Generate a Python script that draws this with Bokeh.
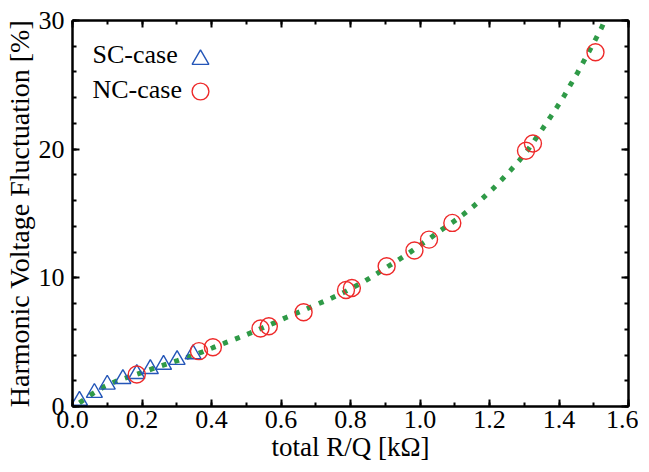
from bokeh.plotting import figure
from bokeh.models import (LinearAxis, SingleIntervalTicker, Legend, LegendItem, Label,
                          Range1d, NumeralTickFormatter, CustomJSTickFormatter)
from bokeh.embed import file_html
from bokeh.resources import INLINE

# ---- data ----
sc_x = [0.02, 0.063, 0.10, 0.145, 0.185, 0.224, 0.262, 0.301, 0.347]
sc_y = [0.46, 1.07, 1.71, 2.15, 2.53, 2.92, 3.25, 3.63, 4.07]

nc_x = [0.185, 0.364, 0.404, 0.541, 0.565, 0.665, 0.787, 0.804, 0.904, 0.984,
        1.026, 1.093, 1.305, 1.325, 1.505]
nc_y = [2.49, 4.30, 4.60, 6.06, 6.24, 7.33, 9.06, 9.21, 10.90, 12.13,
        12.97, 14.27, 19.88, 20.44, 27.53]

fit_x = [0.02, 0.058, 0.089, 0.124, 0.16, 0.195, 0.231, 0.266, 0.302, 0.337, 0.370,
         0.404, 0.441, 0.477, 0.511, 0.546, 0.579, 0.615, 0.673, 0.707, 0.742,
         0.778, 0.809, 0.842, 0.872, 0.904, 0.937, 0.97, 1.0, 1.031, 1.060,
         1.092, 1.123, 1.152, 1.180, 1.209, 1.235, 1.261, 1.286, 1.310, 1.330,
         1.353, 1.374, 1.395, 1.415, 1.433, 1.453, 1.471, 1.489, 1.507, 1.524, 1.531]
fit_y = [0.28, 1.00, 1.51, 1.95, 2.28, 2.59, 2.94, 3.25, 3.56, 3.89, 4.20,
         4.57, 4.96, 5.33, 5.70, 6.10, 6.48, 6.92, 7.58, 7.98, 8.38,
         8.83, 9.28, 9.76, 10.26, 10.82, 11.38, 11.96, 12.53, 13.12, 13.70,
         14.28, 14.89, 15.52, 16.18, 16.90, 17.62, 18.37, 19.13, 19.93, 20.70,
         21.60, 22.44, 23.30, 24.15, 25.00, 25.92, 26.82, 27.72, 28.63, 29.52, 30.0]

series_names = ["SC-case", "NC-case"]
x_title = "total R/Q [kΩ]"
y_title = "Harmonic Voltage Fluctuation [%]"

FONT = "Liberation Serif"
FS = "26px"
FSL = "28px"
BLUE = "#2456b8"
RED = "#ee2a2a"
GREEN = "#2f9a47"

p = figure(width=638, height=468, output_backend="svg", toolbar_location=None,
           x_range=Range1d(0, 1.6), y_range=Range1d(0, 30),
           x_axis_type=None, y_axis_type=None,
           min_border_left=62, min_border_right=10, min_border_top=20, min_border_bottom=62)
p.grid.visible = False
p.outline_line_color = None
p.background_fill_color = "white"
p.border_fill_color = "white"

xt = SingleIntervalTicker(interval=0.2, num_minor_ticks=2)
yt = SingleIntervalTicker(interval=10, num_minor_ticks=5)

def style(ax, labels=True):
    ax.axis_line_width = 2.5
    ax.axis_line_color = "black"
    ax.major_tick_in = 7
    ax.major_tick_out = 0
    ax.minor_tick_in = 4
    ax.minor_tick_out = 0
    ax.major_tick_line_width = 2
    ax.minor_tick_line_width = 2
    ax.major_tick_line_color = "black"
    ax.minor_tick_line_color = "black"
    ax.major_label_text_font = FONT
    ax.major_label_text_font_size = FS
    ax.axis_label_text_font = FONT
    ax.axis_label_text_font_style = "normal"
    ax.axis_label_text_font_size = FSL
    ax.axis_label_text_color = "black"
    ax.major_label_text_color = "black"
    if not labels:
        ax.formatter = CustomJSTickFormatter(code="return ''")
        ax.major_label_standoff = 0

xb = LinearAxis(ticker=xt, formatter=NumeralTickFormatter(format="0.0"),
                axis_label=x_title)
style(xb)
xb.axis_label_text_font_size = "27px"
xb.major_label_standoff = 4
xb.axis_label_standoff = 1
p.add_layout(xb, "below")

yl = LinearAxis(ticker=yt, formatter=NumeralTickFormatter(format="0"),
                axis_label=y_title)
style(yl)
yl.major_label_standoff = 8
yl.axis_label_standoff = 1
p.add_layout(yl, "left")

xa = LinearAxis(ticker=xt)
style(xa, labels=False)
p.add_layout(xa, "above")

yr = LinearAxis(ticker=yt)
style(yr, labels=False)
p.add_layout(yr, "right")

p.line(fit_x, fit_y, line_color=GREEN, line_width=5, line_dash="5 8", line_cap="butt")

sc = p.scatter(sc_x, sc_y, marker="triangle", size=16, fill_color=None,
               line_color=BLUE, line_width=1.4)
nc = p.scatter(nc_x, nc_y, marker="circle", size=17, fill_color=None,
               line_color=RED, line_width=1.4)

# legend: text on the left, marker on the right
for rend, loc, name, ty in [(sc, (107, 326), series_names[0], 352),
                            (nc, (107, 294), series_names[1], 317)]:
    p.add_layout(Legend(items=[LegendItem(label=" ", renderers=[rend])],
                        location=loc, glyph_width=42, glyph_height=42,
                        padding=0, margin=0, label_width=0, label_standoff=0,
                        label_text_font_size="1px", border_line_color=None,
                        background_fill_alpha=0), "center")
    p.add_layout(Label(x=20, y=ty, x_units="screen", y_units="screen", text=name,
                       text_font=FONT, text_font_size=FS, text_baseline="middle",
                       text_align="left", text_color="black"))

open("out.html", "w").write(file_html(p, INLINE))
